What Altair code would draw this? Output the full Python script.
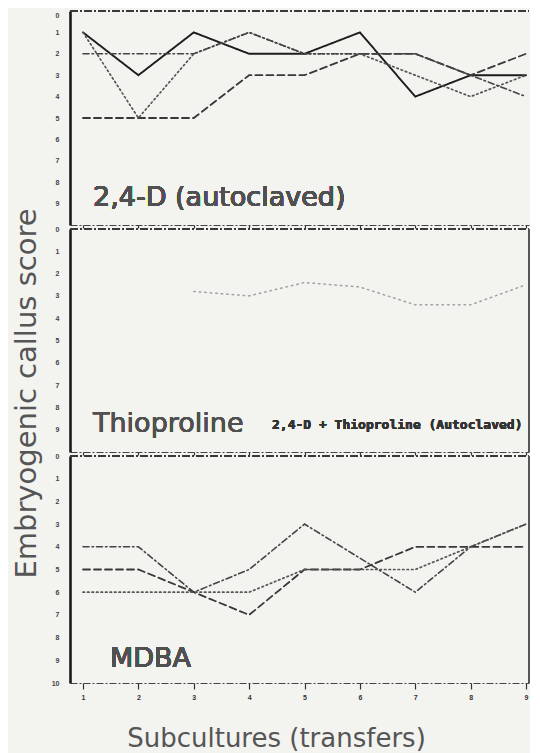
import altair as alt
import pandas as pd

# ---------------- data ----------------
subcultures = [1, 2, 3, 4, 5, 6, 7, 8, 9]
score_ticks_upper = [0, 1, 2, 3, 4, 5, 6, 7, 8, 9]
score_ticks_lower = [0, 1, 2, 3, 4, 5, 6, 7, 8, 9, 10]

# Panel 1: 2,4-D (autoclaved)
d24_solid = [1, 3, 1, 2, 2, 1, 4, 3, 3]
d24_dashed = [5, 5, 5, 3, 3, 2, 2, 3, 2]
d24_dotted = [1, 5, 2, 1, 2, 2, 3, 4, 3]
d24_dashdot = [2, 2, 2, 1, 2, 2, 2, 3, 4]

# Panel 2: Thioproline (one faint trace)
thio_faint = [None, None, 2.8, 3.0, 2.4, 2.6, 3.4, 3.4, 2.5]

# Panel 3: MDBA
mdba_dashdot = [4, 4, 6, 5, 3, 4.5, 6, 4, 3]
mdba_dashed = [5, 5, 6, 7, 5, 5, 4, 4, 4]
mdba_dotted = [6, 6, 6, 6, 5, 5, 5, 4, 3]

panel_labels = ["2,4-D (autoclaved)", "Thioproline", "MDBA"]
small_note = "2,4-D + Thioproline (Autoclaved)"
y_title = "Embryogenic callus score"
x_title = "Subcultures (transfers)"

# ---------------- styling ----------------
style_domain = ["solid", "dashed", "dotted", "dashdot", "faint"]
dash_range = [[1, 0], [7, 4], [1.5, 3], [6, 3, 1.5, 3], [1.5, 4]]
color_range = ["#1c1c1c", "#383838", "#555555", "#444444", "#a0a0a0"]
width_range = [1.9, 1.5, 1.3, 1.3, 1.2]

W = 459
H1, H2, H3 = 214, 223, 227
BG = "#f3f3f0"
FONT = "DejaVu Sans"

xs = alt.Scale(domain=[0.765, 9.054], nice=False, zero=False)
ys = alt.Scale(domain=[0, 10], reverse=True, nice=False)


def long_df(series):
    rows = []
    for style, vals in series:
        for x, v in zip(subcultures, vals):
            if v is not None:
                rows.append({"x": x, "y": v, "s": style})
    return pd.DataFrame(rows)


def x_axis(labels):
    return alt.Axis(
        values=subcultures,
        labels=labels,
        labelFontSize=7,
        labelColor="#333",
        labelFontWeight="bold",
        labelPadding=4,
        tickSize=6 if labels else 3,
        tickColor="#333",
        tickWidth=1.2,
        domainColor="#444",
        domainDash=[7, 2, 2, 2],
        domainWidth=1.2,
        grid=False,
        title=x_title if labels else None,
        titleFontSize=26,
        titleFont=FONT,
        titleFontWeight="normal",
        titleColor="#555",
        titleX=206,
        titleY=63,
        titleBaseline="alphabetic",
        titleAlign="center",
    )


def y_axis(with_title, ticks, flush=False):
    kw = dict(
        values=ticks,
        labelFontSize=7,
        labelColor="#444",
        labelFontWeight="bold",
        labelPadding=11,
        ticks=False,
        domainColor="#1a1a1a",
        domainWidth=2.6,
        grid=False,
    )
    if flush:
        kw.update(labelFlush=True)
    if with_title:
        kw.update(
            title=y_title,
            titleFontSize=29,
            titleFont=FONT,
            titleFontWeight="normal",
            titleColor="#555",
            titleX=-44,
            titleY=164,
            titleAlign="center",
            titleBaseline="middle",
            titleAngle=270,
        )
    else:
        kw.update(title=None)
    return alt.Axis(**kw)


def panel(series, h, label, label_x, label_y, ticks, bottom_labels=False,
          ytitle=False, right_border=False, note=None, flush=False):
    df = long_df(series)
    lines = alt.Chart(df).mark_line(strokeCap="round").encode(
        x=alt.X("x:Q", scale=xs, axis=x_axis(bottom_labels)),
        y=alt.Y("y:Q", scale=ys, axis=y_axis(ytitle, ticks, flush)),
        color=alt.Color("s:N", scale=alt.Scale(domain=style_domain, range=color_range), legend=None),
        strokeDash=alt.StrokeDash("s:N", scale=alt.Scale(domain=style_domain, range=dash_range), legend=None),
        strokeWidth=alt.StrokeWidth("s:N", scale=alt.Scale(domain=style_domain, range=width_range), legend=None),
    )
    top = alt.Chart(df).mark_rule(color="#3a3a3a", strokeWidth=1.3, strokeDash=[8, 2, 2, 2]).encode(
        x=alt.value(0), x2=alt.value(W), y=alt.value(0)
    )
    txt = alt.Chart(df).mark_text(
        text=label, font=FONT, fontSize=27, color="#505050", align="left", baseline="alphabetic"
    ).encode(x=alt.value(label_x), y=alt.value(label_y))
    layers = [lines, top, txt]
    if right_border:
        layers.append(
            alt.Chart(df).mark_rule(color="#555", strokeWidth=1.2).encode(
                x=alt.value(W), y=alt.value(0), y2=alt.value(h)
            )
        )
    if note:
        layers.append(
            alt.Chart(df).mark_text(
                text=note, font="DejaVu Sans Mono", fontSize=13, fontWeight="bold",
                color="#333", align="left", baseline="alphabetic"
            ).encode(x=alt.value(202), y=alt.value(200))
        )
    return alt.layer(*layers).properties(width=W, height=h)


p1 = panel(
    [("solid", d24_solid), ("dashed", d24_dashed), ("dotted", d24_dotted), ("dashdot", d24_dashdot)],
    H1, panel_labels[0], 23, 195, score_ticks_upper, flush=True,
)
p2 = panel(
    [("faint", thio_faint)],
    H2, panel_labels[1], 23, 203, score_ticks_upper, ytitle=True, right_border=True, note=small_note,
)
p3 = panel(
    [("dashdot", mdba_dashdot), ("dashed", mdba_dashed), ("dotted", mdba_dotted)],
    H3, panel_labels[2], 40, 211, score_ticks_lower, bottom_labels=True, right_border=True,
)

chart = (
    alt.vconcat(p1, p2, p3, spacing=4, bounds="flush")
    .properties(padding={"left": 3, "top": 2, "right": 0, "bottom": 2}, background=BG)
    .configure_view(stroke=None, fill=BG)
)

chart.save("out.html", embed_options={"renderer": "svg", "actions": False})
